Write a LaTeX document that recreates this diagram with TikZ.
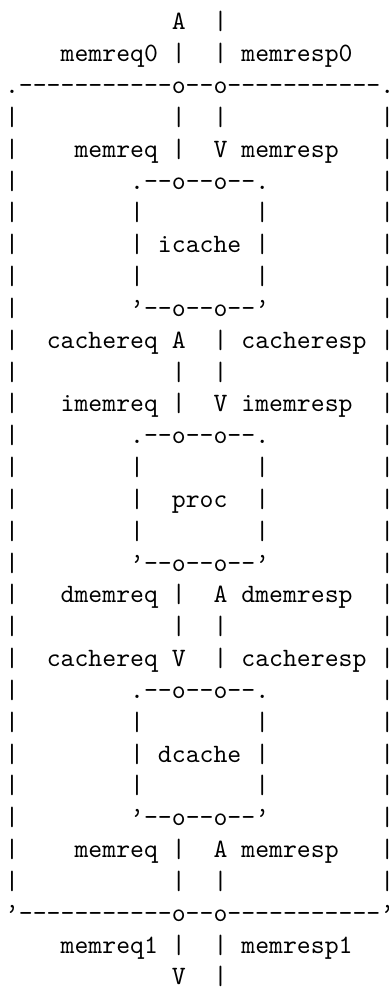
\documentclass[tikz,border=0pt]{standalone}
% typewriter face at its 10pt design, enlarged so that one cell is 13.9pt wide
\font\asciifont="[lmmono10-regular]" at 26.476pt
% one hyphen that never joins its neighbour into a dash ligature
\newcommand\dd{-\kern0pt}
\newcommand\dashrun{\dd\dd\dd\dd\dd\dd\dd\dd\dd\dd\dd}
\newcommand\boxtop{.\dd\dd o\dd\dd o\dd\dd.}
\newcommand\boxbot{’\dd\dd o\dd\dd o\dd\dd’}
% place a piece of text with its left edge at a column and its baseline on a row
\newcommand\cell[4]{\node[ch] (#1) at (#2,#3) {#4};}
\tikzset{ch/.style={inner sep=0pt, outer sep=0pt, anchor=base west, font=\asciifont}}
\begin{document}
\begin{tikzpicture}[x=13.9pt,y=-31.83pt]
\fill[white] (-5.05pt,30pt) rectangle ++(388pt,-987pt);
\useasboundingbox (-5.05pt,30pt) rectangle ++(388pt,-987pt);

% ports of the whole tile, top
\cell{inA}{12}{0}{A}
\cell{inB}{15}{0}{|}
\cell{memreqZ}{4}{1}{memreq0 |}
\cell{memrespZ}{15}{1}{| memresp0}

% outer tile boundary
\cell{tiletop}{0}{2}{.\dashrun o\dd\dd o\dashrun.}
\foreach \r in {3,...,27} {
  \node[ch] (lb\r) at (0,\r) {|};
  \node[ch] (rb\r) at (27,\r) {|};
}
\cell{tilebot}{0}{28}{’\dashrun o\dd\dd o\dashrun’}

% tile memory port to icache
\cell{wA3}{12}{3}{|}
\cell{wB3}{15}{3}{|}
\cell{imreq}{5}{4}{memreq |}
\cell{imresp}{15}{4}{V memresp}

% icache
\cell{icT}{9}{5}{\boxtop}
\cell{icL6}{9}{6}{|}
\cell{icR6}{18}{6}{|}
\cell{icache}{9}{7}{| icache |}
\cell{icL8}{9}{8}{|}
\cell{icR8}{18}{8}{|}
\cell{icB}{9}{9}{\boxbot}

% icache to proc
\cell{icreq}{3}{10}{cachereq A}
\cell{icresp}{15}{10}{| cacheresp}
\cell{wA11}{12}{11}{|}
\cell{wB11}{15}{11}{|}
\cell{pireq}{4}{12}{imemreq |}
\cell{piresp}{15}{12}{V imemresp}

% proc
\cell{prT}{9}{13}{\boxtop}
\cell{prL14}{9}{14}{|}
\cell{prR14}{18}{14}{|}
\cell{prL15}{9}{15}{|}
\cell{proc}{12}{15}{proc}
\cell{prR15}{18}{15}{|}
\cell{prL16}{9}{16}{|}
\cell{prR16}{18}{16}{|}
\cell{prB}{9}{17}{\boxbot}

% proc to dcache
\cell{pdreq}{4}{18}{dmemreq |}
\cell{pdresp}{15}{18}{A dmemresp}
\cell{wA19}{12}{19}{|}
\cell{wB19}{15}{19}{|}
\cell{dcreq}{3}{20}{cachereq V}
\cell{dcresp}{15}{20}{| cacheresp}

% dcache
\cell{dcT}{9}{21}{\boxtop}
\cell{dcL22}{9}{22}{|}
\cell{dcR22}{18}{22}{|}
\cell{dcache}{9}{23}{| dcache |}
\cell{dcL24}{9}{24}{|}
\cell{dcR24}{18}{24}{|}
\cell{dcB}{9}{25}{\boxbot}

% dcache to tile memory port
\cell{dmreq}{5}{26}{memreq |}
\cell{dmresp}{15}{26}{A memresp}
\cell{wA27}{12}{27}{|}
\cell{wB27}{15}{27}{|}

% ports of the whole tile, bottom
\cell{memreqO}{4}{29}{memreq1 |}
\cell{memrespO}{15}{29}{| memresp1}
\cell{outA}{12}{30}{V}
\cell{outB}{15}{30}{|}
\end{tikzpicture}
\end{document}
